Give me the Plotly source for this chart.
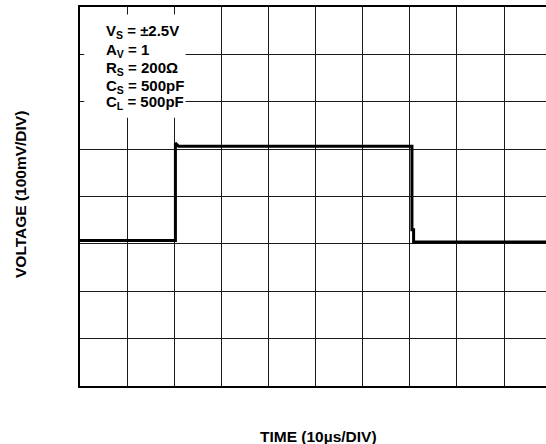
import plotly.graph_objects as go

# Waveform samples: time in microseconds, voltage in millivolts
time_us = [0.0, 20.25, 20.25, 20.5, 20.9, 45.0, 70.4, 70.45, 70.45, 70.8, 70.8, 75.0, 98.9]
volt_mv = [-92.8, -92.8, 113.0, 111.0, 105.9, 105.9, 105.9, 105.9, -70.0, -70.0, -96.0, -96.0, -96.0]

# Test conditions printed in the corner box
conditions = [
    "V<sub>S</sub> = ±2.5V",
    "A<sub>V</sub> = 1",
    "R<sub>S</sub> = 200Ω",
    "C<sub>S</sub> = 500pF",
    "C<sub>L</sub> = 500pF",
]

x_range = [0, 98.9]
y_range = [-400, 400]
x_div = 10
y_div = 100

FONT = "Liberation Sans, Arial, sans-serif"

fig = go.Figure()
fig.add_trace(go.Scatter(
    x=time_us, y=volt_mv, mode="lines",
    line=dict(color="black", width=3),
    hoverinfo="skip", showlegend=False,
))

fig.update_xaxes(
    range=x_range, tick0=0, dtick=x_div,
    showgrid=True, gridcolor="#1a1a1a", gridwidth=1.3,
    showline=True, linecolor="black", linewidth=2, mirror=True,
    showticklabels=False, ticks="", zeroline=False, fixedrange=True,
)
fig.update_yaxes(
    range=y_range, tick0=-400, dtick=y_div,
    showgrid=True, gridcolor="#1a1a1a", gridwidth=1.3,
    showline=True, linecolor="black", linewidth=2, mirror=False,
    showticklabels=False, ticks="", zeroline=False, fixedrange=True,
)

# White panel behind the conditions text
fig.add_shape(
    type="rect", xref="x", yref="y",
    x0=0.9, x1=22.4, y0=166, y1=384,
    fillcolor="white", line=dict(width=0), layer="above",
)

line_y = [348, 309, 271, 233, 198]
for txt, yy in zip(conditions, line_y):
    fig.add_annotation(
        x=5.0, y=yy, xref="x", yref="y", text=txt, showarrow=False,
        xanchor="left", yanchor="middle",
        font=dict(family=FONT, size=15, color="black", weight="bold"),
    )

fig.update_layout(
    width=546, height=444,
    margin=dict(l=80, r=0, t=7, b=58),
    paper_bgcolor="white", plot_bgcolor="white",
)

# Axis captions, positioned in paper coordinates
fig.add_annotation(
    x=(20 - 80) / 466, y=(386 - 195) / 379, xref="paper", yref="paper",
    text="VOLTAGE (100mV/DIV)", showarrow=False, textangle=-90,
    xanchor="center", yanchor="middle",
    font=dict(family=FONT, size=15.5, color="black", weight="bold"),
)
fig.add_annotation(
    x=(318 - 80) / 466, y=(386 - 436) / 379, xref="paper", yref="paper",
    text="TIME (10µs/DIV)", showarrow=False, xanchor="center", yanchor="middle",
    font=dict(family=FONT, size=15.5, color="black", weight="bold"),
)

fig.write_html("out.html")
